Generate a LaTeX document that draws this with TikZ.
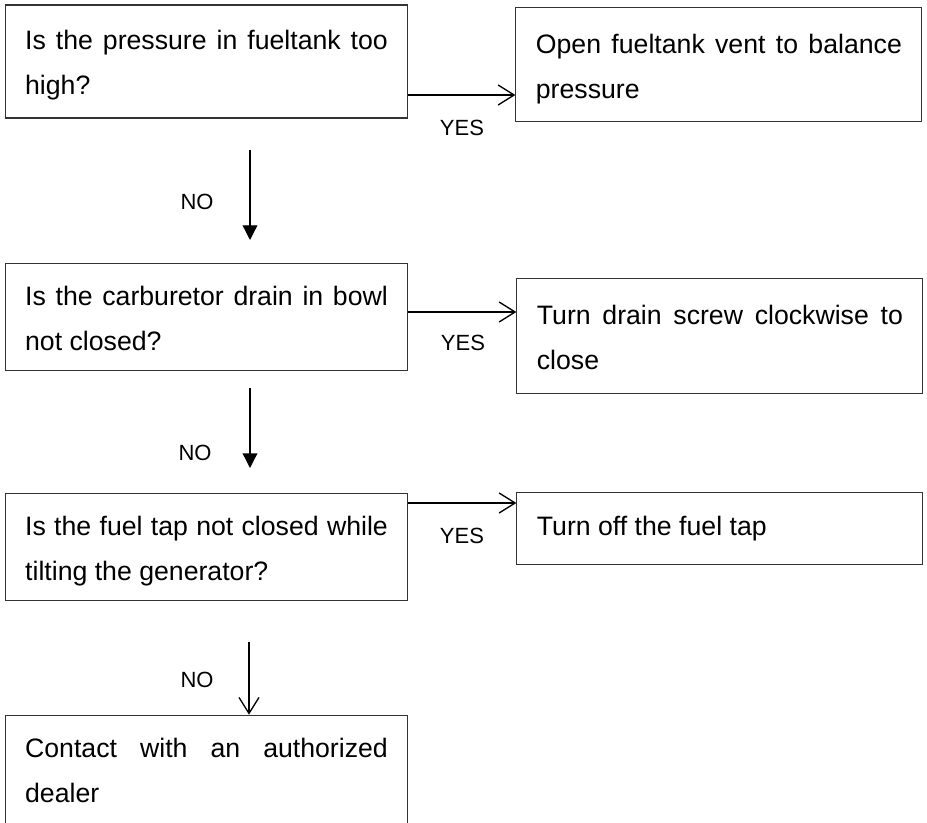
\documentclass[tikz,border=0pt]{standalone}
\usepackage{fontspec}
\setmainfont{Liberation Sans}
\usetikzlibrary{positioning, arrows.meta}

\begin{document}
\begin{tikzpicture}[x=0.75pt, y=-0.75pt,
  box/.style={draw=black!80, line width=0.8pt, align=justify, inner xsep=15pt, inner ysep=0pt,
    font=\fontsize{20pt}{33.75pt}\selectfont,
    execute at begin node={\hyphenpenalty=10000 \noindent\rule{0pt}{22.5pt}},
    execute at end node={\rule[-6pt]{0pt}{6pt}}},
  qbox/.style={box, text width=272pt},
  abox/.style={box, text width=274.5pt},
  lbl/.style={font=\fontsize{16.5pt}{20pt}\selectfont, inner sep=0pt},
  yesarr/.style={-{Straight Barb[length=12pt, width=15pt]}, line width=1pt},
  noarr/.style={-{Triangle[length=11pt, width=11pt]}, line width=1pt}]
  \useasboundingbox (0,0) rectangle (927,823);

  \node[qbox, minimum height=84.75pt] (pres) at (206.5,61.5) {Is the pressure in fueltank too high?};
  \node[abox, minimum height=85.5pt, right=80.25pt of pres, yshift=-2.6pt] (vent) {Open fueltank vent to balance pressure};
  \node[qbox, minimum height=80.25pt, below=108pt of pres] (carb) {Is the carburetor drain in bowl not closed?};
  \node[abox, minimum height=86.25pt, right=81pt of carb, yshift=-14.25pt] (drain) {Turn drain screw clockwise to close};
  \node[qbox, minimum height=80.25pt, below=91.5pt of carb] (tap) {Is the fuel tap not closed while tilting the generator?};
  \node[abox, minimum height=54pt, right=81pt of tap, yshift=13.9pt,
    execute at end node={\rule[-12pt]{0pt}{12pt}}] (tapoff) {Turn off the fuel tap};
  \node[qbox, minimum height=81pt, below=85.5pt of tap] (dealer) {Contact with an authorized dealer};

  % YES branches
  \coordinate (y1) at (0,95);
  \coordinate (y2) at (0,312);
  \coordinate (y3) at (0,503);
  \draw[yesarr] (pres.east |- y1) -- (vent.west |- y1);
  \draw[yesarr] (carb.east |- y2) -- (drain.west |- y2);
  \draw[yesarr] (tap.east |- y3) -- (tapoff.west |- y3);
  \node[lbl] (yes1) at (462,128) {YES};
  \node[lbl] (yes2) at (463,343) {YES};
  \node[lbl] (yes3) at (462,536) {YES};

  % NO branches
  \coordinate (n1a) at (250,150);
  \coordinate (n1b) at (250,240);
  \coordinate (n2a) at (250,388);
  \coordinate (n2b) at (250,468);
  \coordinate (n3a) at (249,642);
  \draw[noarr] (n1a) -- (n1b);
  \draw[noarr] (n2a) -- (n2b);
  \draw[yesarr] (n3a) -- (n3a |- dealer.north);
  \node[lbl] (no1) at (197,202) {NO};
  \node[lbl] (no2) at (195,453) {NO};
  \node[lbl] (no3) at (197,680) {NO};
\end{tikzpicture}
\end{document}
